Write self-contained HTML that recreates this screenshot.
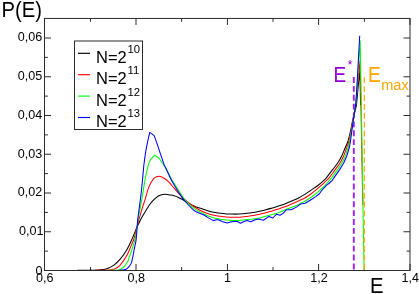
<!DOCTYPE html>
<html><head><meta charset="utf-8"><title>P(E)</title>
<style>
html,body{margin:0;padding:0;background:#fff;}
body{width:419px;height:294px;position:relative;overflow:hidden;font-family:"Liberation Sans",sans-serif;}
.t{position:absolute;white-space:nowrap;line-height:1;font-family:"Liberation Sans",sans-serif;}
#tx{position:absolute;left:0;top:0;width:419px;height:294px;will-change:transform;}
</style></head><body>
<svg width="419" height="294" viewBox="0 0 419 294" style="position:absolute;left:0;top:0">
<rect x="0" y="0" width="419" height="294" fill="#fff"/>
<path d="M44.50 270.50v-6.5M44.50 18.45v6.5M90.45 270.50v-3.4M90.45 18.45v3.4M136.00 270.50v-6.5M136.00 18.45v6.5M181.60 270.50v-3.4M181.60 18.45v3.4M227.45 270.50v-6.5M227.45 18.45v6.5M273.00 270.50v-3.4M273.00 18.45v3.4M318.60 270.50v-6.5M318.60 18.45v6.5M364.40 270.50v-3.4M364.40 18.45v3.4M410.00 270.50v-6.5M410.00 18.45v6.5M44.50 270.50h6.5M410.00 270.50h-6.5M44.50 251.12h3.4M410.00 251.12h-3.4M44.50 231.75h6.5M410.00 231.75h-6.5M44.50 212.38h3.4M410.00 212.38h-3.4M44.50 193.00h6.5M410.00 193.00h-6.5M44.50 173.62h3.4M410.00 173.62h-3.4M44.50 154.25h6.5M410.00 154.25h-6.5M44.50 134.88h3.4M410.00 134.88h-3.4M44.50 115.50h6.5M410.00 115.50h-6.5M44.50 96.12h3.4M410.00 96.12h-3.4M44.50 76.75h6.5M410.00 76.75h-6.5M44.50 57.38h3.4M410.00 57.38h-3.4M44.50 38.00h6.5M410.00 38.00h-6.5" stroke="#2c2c2c" stroke-width="1" fill="none"/>
<line x1="353.8" y1="77" x2="353.8" y2="270" stroke="#a020f0" stroke-width="1.9" stroke-dasharray="5.9 2.98"/>
<path fill="none" stroke="#000" stroke-width="1.05" stroke-linejoin="round" d="M77.00 270.15C79.17 270.15 86.50 270.16 90.00 270.15C93.50 270.14 95.83 270.19 98.00 270.10C100.17 270.01 101.40 269.87 103.00 269.60C104.60 269.33 105.78 269.25 107.60 268.50C109.42 267.75 111.80 266.65 113.90 265.10C116.00 263.55 118.10 261.67 120.20 259.20C122.30 256.73 124.62 253.45 126.50 250.30C128.38 247.15 129.65 244.40 131.50 240.30C133.35 236.20 136.07 229.17 137.60 225.70C139.13 222.23 139.60 221.55 140.70 219.50C141.80 217.45 143.10 215.27 144.20 213.40C145.30 211.53 146.28 209.90 147.30 208.30C148.32 206.70 149.28 205.15 150.30 203.80C151.32 202.45 152.37 201.27 153.40 200.20C154.43 199.13 155.48 198.17 156.50 197.40C157.52 196.63 158.48 196.07 159.50 195.60C160.52 195.13 161.58 194.82 162.60 194.60C163.62 194.38 164.42 194.25 165.60 194.30C166.78 194.35 168.30 194.67 169.70 194.90C171.10 195.13 172.62 195.32 174.00 195.70C175.38 196.08 176.67 196.60 178.00 197.20C179.33 197.80 180.25 198.28 182.00 199.30C183.75 200.32 186.33 202.12 188.50 203.30C190.67 204.48 192.87 205.52 195.00 206.40C197.13 207.28 199.20 207.88 201.30 208.60C203.40 209.32 205.50 210.08 207.60 210.70C209.70 211.32 211.80 211.87 213.90 212.30C216.00 212.73 218.10 213.03 220.20 213.30C222.30 213.57 224.40 213.77 226.50 213.90C228.60 214.03 230.70 214.08 232.80 214.10C234.90 214.12 236.73 214.12 239.10 214.00C241.47 213.88 244.63 213.62 247.00 213.35C249.37 213.08 251.20 212.76 253.30 212.40C255.40 212.04 257.50 211.63 259.60 211.20C261.70 210.77 263.80 210.33 265.90 209.80C268.00 209.27 270.10 208.62 272.20 208.00C274.30 207.38 276.40 206.78 278.50 206.10C280.60 205.42 282.70 204.70 284.80 203.90C286.90 203.10 288.73 202.32 291.10 201.30C293.47 200.28 296.65 199.00 299.00 197.80C301.35 196.60 303.12 195.42 305.20 194.10C307.28 192.78 309.40 191.33 311.50 189.90C313.60 188.47 315.70 187.13 317.80 185.50C319.90 183.87 322.68 181.37 324.10 180.10C325.52 178.83 324.92 179.60 326.30 177.90C327.68 176.20 330.53 172.33 332.40 169.90C334.27 167.47 335.97 165.58 337.50 163.30C339.03 161.02 340.33 158.75 341.60 156.20C342.87 153.65 344.08 150.37 345.10 148.00C346.12 145.63 346.83 144.67 347.70 142.00C348.57 139.33 349.53 135.33 350.30 132.00C351.07 128.67 351.97 123.67 352.30 122.00L356.50 105.00L358.40 84.00L359.90 71.00L360.60 105.00"/>
<path fill="none" stroke="#f00" stroke-width="1.05" stroke-linejoin="round" d="M95.00 270.15C96.33 270.15 100.67 270.16 103.00 270.15C105.33 270.14 107.48 270.19 109.00 270.10C110.52 270.01 111.00 269.88 112.10 269.60C113.20 269.32 114.53 268.88 115.60 268.40C116.67 267.92 117.55 267.50 118.50 266.70C119.45 265.90 120.35 264.78 121.30 263.60C122.25 262.42 123.28 260.93 124.20 259.60C125.12 258.27 126.10 256.82 126.80 255.60C127.50 254.38 127.53 254.28 128.40 252.30C129.27 250.32 131.08 245.92 132.00 243.70C132.92 241.48 133.02 241.95 133.90 239.00C134.78 236.05 136.48 229.18 137.30 226.00C138.12 222.82 137.98 222.85 138.80 219.90C139.62 216.95 141.13 211.75 142.20 208.30C143.27 204.85 144.40 201.82 145.20 199.20C146.00 196.58 146.37 194.70 147.00 192.60C147.63 190.50 148.27 188.37 149.00 186.60C149.73 184.83 150.58 183.37 151.40 182.00C152.22 180.63 153.13 179.25 153.90 178.40C154.67 177.55 155.17 177.25 156.00 176.90C156.83 176.55 157.93 176.28 158.90 176.30C159.87 176.32 160.62 176.47 161.80 177.00C162.98 177.53 164.58 178.38 166.00 179.50C167.42 180.62 168.95 182.25 170.30 183.70C171.65 185.15 172.83 186.72 174.10 188.20C175.37 189.68 176.58 191.10 177.90 192.60C179.22 194.10 180.23 195.53 182.00 197.20C183.77 198.87 186.33 200.92 188.50 202.60C190.67 204.28 192.87 205.90 195.00 207.30C197.13 208.70 199.20 209.97 201.30 211.00C203.40 212.03 205.50 212.80 207.60 213.50C209.70 214.20 211.80 214.75 213.90 215.20C216.00 215.65 218.10 215.92 220.20 216.20C222.30 216.48 224.40 216.72 226.50 216.90C228.60 217.08 230.70 217.25 232.80 217.30C234.90 217.35 236.73 217.35 239.10 217.20C241.47 217.05 244.63 216.67 247.00 216.40C249.37 216.13 251.20 215.95 253.30 215.60C255.40 215.25 257.50 214.78 259.60 214.30C261.70 213.82 263.80 213.25 265.90 212.70C268.00 212.15 270.10 211.63 272.20 211.00C274.30 210.37 276.40 209.60 278.50 208.90C280.60 208.20 282.70 207.58 284.80 206.80C286.90 206.02 288.73 205.22 291.10 204.20C293.47 203.18 296.65 201.77 299.00 200.70C301.35 199.63 303.12 199.00 305.20 197.80C307.28 196.60 309.40 195.08 311.50 193.50C313.60 191.92 315.70 190.08 317.80 188.30C319.90 186.52 322.22 184.53 324.10 182.80C325.98 181.07 327.28 180.05 329.10 177.90C330.92 175.75 333.22 172.33 335.00 169.90C336.78 167.47 338.38 165.58 339.80 163.30C341.22 161.02 342.37 158.75 343.50 156.20C344.63 153.65 345.73 150.37 346.60 148.00C347.47 145.63 348.00 144.67 348.70 142.00C349.40 139.33 350.15 135.33 350.80 132.00C351.45 128.67 352.30 123.67 352.60 122.00L355.80 104.00L357.60 84.00L360.05 60.70L362.85 205.00"/>
<path fill="none" stroke="#0f0" stroke-width="1.05" stroke-linejoin="round" d="M109.00 270.15C110.25 270.15 114.83 270.22 116.50 270.15C118.17 270.07 118.20 269.91 119.00 269.70C119.80 269.49 120.43 269.42 121.30 268.90C122.17 268.38 123.23 267.70 124.20 266.60C125.17 265.50 126.42 263.37 127.10 262.30C127.78 261.23 127.80 261.45 128.30 260.20C128.80 258.95 129.35 257.03 130.10 254.80C130.85 252.57 131.97 249.43 132.80 246.80C133.63 244.17 134.35 242.47 135.10 239.00C135.85 235.53 136.82 229.18 137.30 226.00C137.78 222.82 137.43 223.35 138.00 219.90C138.57 216.45 139.82 210.23 140.70 205.30C141.58 200.37 142.53 194.83 143.30 190.30C144.07 185.77 144.58 181.82 145.30 178.10C146.02 174.38 147.10 170.20 147.60 168.00C148.10 165.80 147.87 166.22 148.30 164.90C148.73 163.58 149.88 160.90 150.20 160.10L154.60 155.10L159.00 158.20L162.10 162.60L163.60 164.70L165.90 168.20L171.90 180.00L178.50 190.20L185.00 200.20L190.50 205.40L196.20 209.90L201.30 212.60L207.60 215.80L213.90 218.00L220.20 219.20L226.50 219.90L232.80 220.60L239.10 220.60L247.00 219.60L253.30 219.00L259.60 218.00L265.90 216.20L272.20 214.60L278.50 212.70L284.80 209.90L291.10 207.60L296.40 205.60L300.80 203.30L305.20 201.20L311.50 197.00L317.80 192.20L324.10 186.50L329.10 180.80L331.60 177.90L337.40 169.90L341.80 163.30L345.20 156.20L348.00 148.00L349.60 142.00L351.30 132.00L352.90 122.00L356.00 103.00L357.30 84.00L360.20 41.00L364.10 270.50"/>
<path fill="none" stroke="#00f" stroke-width="1.05" stroke-linejoin="round" d="M119.50 270.15C120.10 270.12 122.02 270.14 123.10 270.00C124.18 269.86 125.18 269.70 126.00 269.30C126.82 268.90 127.38 268.20 128.00 267.60C128.62 267.00 129.12 266.53 129.70 265.70C130.28 264.87 130.98 264.07 131.50 262.60C132.02 261.13 132.27 259.53 132.80 256.90C133.33 254.27 134.15 249.63 134.70 246.80C135.25 243.97 135.68 243.32 136.10 239.90C136.52 236.48 136.93 229.63 137.20 226.30C137.47 222.97 137.30 223.40 137.70 219.90C138.10 216.40 138.97 210.23 139.60 205.30C140.23 200.37 140.95 195.25 141.50 190.30C142.05 185.35 142.55 179.32 142.90 175.60C143.25 171.88 143.43 169.78 143.60 168.00C143.77 166.22 143.55 167.58 143.90 164.90C144.25 162.22 145.08 155.73 145.70 151.90C146.32 148.07 146.92 145.15 147.60 141.90C148.28 138.65 149.43 133.98 149.80 132.40L154.20 135.60L157.30 144.40L160.60 154.40L164.20 164.90L165.70 168.00L171.30 180.00L177.30 190.20L183.40 199.40L188.50 205.00L193.10 209.70L195.50 211.40L204.40 215.20L207.60 217.40L212.00 219.90L213.90 220.60L216.40 219.70L218.30 219.80L222.10 221.40L227.10 223.00L231.50 221.70L236.60 221.20L240.60 223.30L243.50 221.70L247.00 220.40L250.80 221.70L254.60 220.00L258.30 219.00L263.40 220.20L269.00 216.40L272.80 218.00L276.60 214.20L280.00 215.30L283.10 213.40L286.50 209.70L291.20 209.80L296.40 207.10L300.80 203.90L305.20 203.30L310.20 200.20L315.70 196.60L319.20 194.00L321.70 190.50L326.40 185.40L329.40 183.00L332.30 180.30L333.90 177.90L339.50 169.90L343.60 163.30L346.70 156.20L349.20 148.00L350.40 142.00L351.70 132.00L353.05 122.00L355.90 103.00L357.00 85.00L359.70 35.70"/>
<line x1="364.3" y1="77.3" x2="364.3" y2="270" stroke="#ffa500" stroke-width="1.2" stroke-dasharray="5.9 2.98"/>
<rect x="44.50" y="18.45" width="365.50" height="252.05" fill="none" stroke="#2c2c2c" stroke-width="1"/>
<rect x="74.5" y="41.0" width="68.0" height="88.5" fill="#fff" stroke="#2c2c2c" stroke-width="1"/>
<line x1="78" y1="53.30" x2="90" y2="53.30" stroke="#000" stroke-width="1.15"/>
<line x1="78" y1="74.70" x2="90" y2="74.70" stroke="#f00" stroke-width="1.15"/>
<line x1="78" y1="96.10" x2="90" y2="96.10" stroke="#0f0" stroke-width="1.15"/>
<line x1="78" y1="117.50" x2="90" y2="117.50" stroke="#00f" stroke-width="1.15"/>
</svg>
<div id="tx">
<div class="t" style="left:1.5px;top:-0.5px;font-size:20.2px;color:#000;transform:scaleY(1.100);transform-origin:0 17.10px;">P(E)</div>
<div class="t" style="left:370.1px;top:275.7px;font-size:20.3px;color:#000;transform:scaleY(1.080);transform-origin:0 17.18px;">E</div>
<div class="t" style="left:43.5px;top:225.2px;font-size:12.6px;color:#000;transform:translateX(-100%) scaleY(1.045);transform-origin:0 10.67px;">0,01</div>
<div class="t" style="left:42.3px;top:186.4px;font-size:12.6px;color:#000;transform:translateX(-100%) scaleY(1.045);transform-origin:0 10.67px;">0,02</div>
<div class="t" style="left:42.3px;top:147.7px;font-size:12.6px;color:#000;transform:translateX(-100%) scaleY(1.045);transform-origin:0 10.67px;">0,03</div>
<div class="t" style="left:42.3px;top:108.9px;font-size:12.6px;color:#000;transform:translateX(-100%) scaleY(1.045);transform-origin:0 10.67px;">0,04</div>
<div class="t" style="left:42.3px;top:70.2px;font-size:12.6px;color:#000;transform:translateX(-100%) scaleY(1.045);transform-origin:0 10.67px;">0,05</div>
<div class="t" style="left:42.3px;top:31.4px;font-size:12.6px;color:#000;transform:translateX(-100%) scaleY(1.045);transform-origin:0 10.67px;">0,06</div>
<div class="t" style="left:42.5px;top:264.7px;font-size:12.6px;color:#000;transform:translateX(-100%) scaleY(1.045);transform-origin:0 10.67px;">0</div>
<div class="t" style="left:44.8px;top:272.3px;font-size:12.6px;color:#000;transform:translateX(-50%) scaleY(1.045);transform-origin:0 10.67px;">0,6</div>
<div class="t" style="left:136.2px;top:272.3px;font-size:12.6px;color:#000;transform:translateX(-50%) scaleY(1.045);transform-origin:0 10.67px;">0,8</div>
<div class="t" style="left:227.6px;top:272.3px;font-size:12.6px;color:#000;transform:translateX(-50%) scaleY(1.045);transform-origin:0 10.67px;">1</div>
<div class="t" style="left:318.9px;top:272.3px;font-size:12.6px;color:#000;transform:translateX(-50%) scaleY(1.045);transform-origin:0 10.67px;">1,2</div>
<div class="t" style="left:410.3px;top:272.3px;font-size:12.6px;color:#000;transform:translateX(-50%) scaleY(1.045);transform-origin:0 10.67px;">1,4</div>
<div class="t" style="left:96.0px;top:48.7px;font-size:16.5px;color:#000;transform:scaleY(1.045);transform-origin:0 13.97px;">N=2</div>
<div class="t" style="left:127.5px;top:43.9px;font-size:11.3px;color:#000;transform:scaleY(1.045);transform-origin:0 9.57px;">10</div>
<div class="t" style="left:96.0px;top:70.2px;font-size:16.5px;color:#000;transform:scaleY(1.045);transform-origin:0 13.97px;">N=2</div>
<div class="t" style="left:127.5px;top:65.4px;font-size:11.3px;color:#000;transform:scaleY(1.045);transform-origin:0 9.57px;">11</div>
<div class="t" style="left:96.0px;top:91.7px;font-size:16.5px;color:#000;transform:scaleY(1.045);transform-origin:0 13.97px;">N=2</div>
<div class="t" style="left:127.5px;top:86.9px;font-size:11.3px;color:#000;transform:scaleY(1.045);transform-origin:0 9.57px;">12</div>
<div class="t" style="left:96.0px;top:113.2px;font-size:16.5px;color:#000;transform:scaleY(1.045);transform-origin:0 13.97px;">N=2</div>
<div class="t" style="left:127.5px;top:108.4px;font-size:11.3px;color:#000;transform:scaleY(1.045);transform-origin:0 9.57px;">13</div>
<div class="t" style="left:333.5px;top:66.1px;font-size:19.0px;color:#9400d3;transform:scaleY(1.200);transform-origin:0 16.08px;">E</div>
<div class="t" style="left:347.4px;top:57.5px;font-size:13.0px;color:#9400d3;transform:scaleY(1.045);transform-origin:0 11.00px;">*</div>
<div class="t" style="left:367.9px;top:65.6px;font-size:19.3px;color:#ffa500;transform:scaleY(1.170);transform-origin:0 16.34px;">E</div>
<div class="t" style="left:381.2px;top:78.1px;font-size:14.6px;color:#ffa500;transform:scaleY(1.045);transform-origin:0 12.36px;">max</div>
</div>
</body></html>
